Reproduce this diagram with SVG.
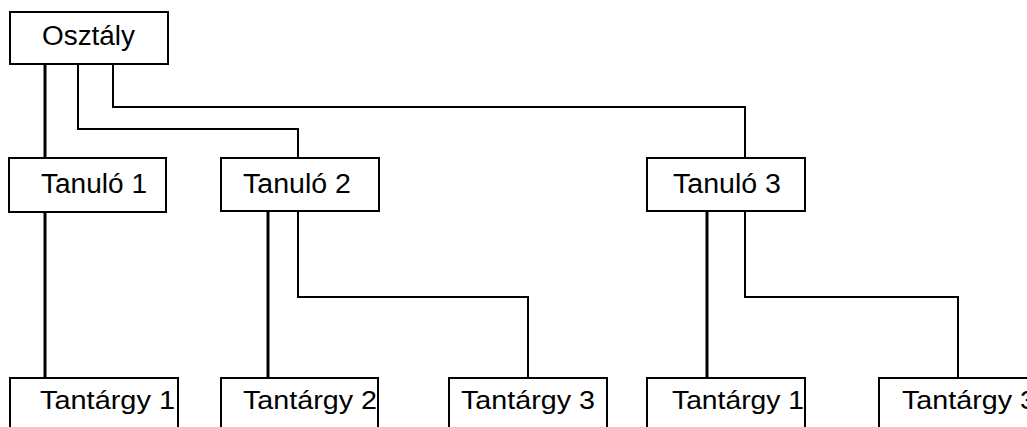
<svg xmlns="http://www.w3.org/2000/svg" width="1027" height="427" viewBox="0 0 1027 427">
<style>
.box{fill:#fff;stroke:#000;stroke-width:2}
.lbl{font-family:"Liberation Sans",Arial,sans-serif;font-size:27px;fill:#000}
.sm{font-size:26px}
.thick{fill:none;stroke:#000;stroke-width:3}
.thin{fill:none;stroke:#000;stroke-width:2}
</style>
<rect width="1027" height="427" fill="#fff"/>
<g id="connectors">
<path class="thick" d="M45 64V158"/>
<path class="thin" d="M78 64V129H298V158"/>
<path class="thin" d="M113 64V107H745V158"/>
<path class="thick" d="M45 212V378"/>
<path class="thick" d="M268 211V378"/>
<path class="thin" d="M298 211V297H528V378"/>
<path class="thick" d="M707 211V378"/>
<path class="thin" d="M745 211V297H958V378"/>
</g>
<g id="osztaly"><rect class="box" x="10" y="12" width="158" height="52"/><text class="lbl" x="42" y="45" textLength="93" lengthAdjust="spacingAndGlyphs">Osztály</text></g>
<g id="tanulo1"><rect class="box" x="9" y="158" width="157" height="54"/><text class="lbl" x="41" y="193" textLength="106" lengthAdjust="spacingAndGlyphs">Tanuló 1</text></g>
<g id="tanulo2"><rect class="box" x="221" y="158" width="158" height="53"/><text class="lbl" x="243" y="193" textLength="108" lengthAdjust="spacingAndGlyphs">Tanuló 2</text></g>
<g id="tanulo3"><rect class="box" x="647" y="158" width="158" height="53"/><text class="lbl" x="673" y="193" textLength="108" lengthAdjust="spacingAndGlyphs">Tanuló 3</text></g>
<g id="tantargy1a"><rect class="box" x="10" y="378" width="168" height="70"/><text class="lbl sm" x="40" y="409" textLength="135" lengthAdjust="spacingAndGlyphs">Tantárgy 1</text></g>
<g id="tantargy2"><rect class="box" x="221" y="378" width="157" height="70"/><text class="lbl sm" x="243" y="409" textLength="134" lengthAdjust="spacingAndGlyphs">Tantárgy 2</text></g>
<g id="tantargy3a"><rect class="box" x="449" y="378" width="158" height="70"/><text class="lbl sm" x="461" y="409" textLength="134" lengthAdjust="spacingAndGlyphs">Tantárgy 3</text></g>
<g id="tantargy1b"><rect class="box" x="647" y="378" width="158" height="70"/><text class="lbl sm" x="672" y="409" textLength="132" lengthAdjust="spacingAndGlyphs">Tantárgy 1</text></g>
<g id="tantargy3b"><rect class="box" x="879" y="378" width="170" height="70"/><text class="lbl sm" x="902" y="409" textLength="134" lengthAdjust="spacingAndGlyphs">Tantárgy 3</text></g>
</svg>
